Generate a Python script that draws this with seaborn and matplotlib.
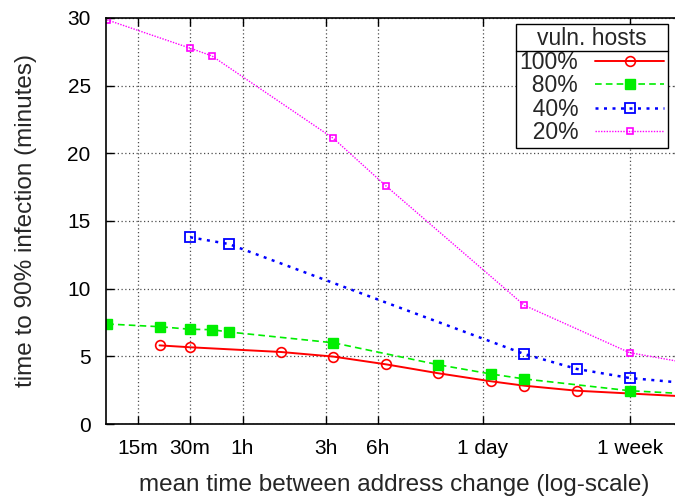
import matplotlib
matplotlib.use("Agg")
import matplotlib.pyplot as plt
import seaborn as sns
import pandas as pd
from matplotlib.lines import Line2D

# ---- data (x in minutes) ----
x_100 = [20, 30, 100, 200, 400, 800, 1600, 2500, 5000, 20160]
y_100 = [5.81, 5.67, 5.32, 4.98, 4.41, 3.75, 3.16, 2.83, 2.46, 2.05]
x_80 = [10, 20, 30, 40, 50, 200, 800, 1600, 2500, 10080, 20160]
y_80 = [7.39, 7.19, 7.0, 6.97, 6.8, 6.0, 4.38, 3.7, 3.33, 2.46, 2.25]
x_40 = [30, 50, 2500, 5000, 10080, 20160]
y_40 = [13.8, 13.3, 5.17, 4.07, 3.4, 3.05]
x_20 = [10, 30, 40, 200, 400, 2500, 10080, 20160]
y_20 = [29.86, 27.77, 27.2, 21.1, 17.6, 8.77, 5.27, 4.58]
series_labels = ["100%", "80%", "40%", "20%"]
tick_pos = [15, 30, 60, 180, 360, 1440, 10080]
tick_labels = ["15m", "30m", "1h", "3h", "6h", "1 day", "1 week"]
y_ticks = [0, 5, 10, 15, 20, 25, 30]

sns.set_style("ticks")
plt.rcParams["font.family"] = ["Liberation Sans", "DejaVu Sans"]

fig = plt.figure(figsize=(6.75, 4.99), dpi=100)
ax = fig.add_axes([106 / 675, 1 - 424 / 499, (682 - 106) / 675, (424 - 18) / 499])

styles = [
    dict(color="#ff0000", ls="-", lw=1.4, marker="o", ms=7, mfc="none", mec="#ff0000", mew=1.2),
    dict(color="#00ee00", ls=(0, (4, 2.5)), lw=1.2, marker="s", ms=7, mfc="#00ee00", mec="#00ee00", mew=1.0),
    dict(color="#0000ff", ls=(0, (1.2, 2.2)), lw=1.8, marker="s", ms=7, mfc="none", mec="#0000ff", mew=1.3),
    dict(color="#ff00ff", ls=(0, (1, 1)), lw=1.0, marker="s", ms=5, mfc="none", mec="#ff00ff", mew=1.2),
]
data = [(x_100, y_100), (x_80, y_80), (x_40, y_40), (x_20, y_20)]

handles = []
for (xs, ys), lab, st in zip(data, series_labels, styles):
    df = pd.DataFrame({"x": xs, "y": ys})
    sns.lineplot(data=df, x="x", y="y", ax=ax, color=st["color"], linestyle=st["ls"],
                 linewidth=st["lw"], marker=st["marker"], markersize=st["ms"],
                 markerfacecolor=st["mfc"], markeredgecolor=st["mec"],
                 markeredgewidth=st["mew"], clip_on=True, legend=False)
    handles.append(Line2D([], [], color=st["color"], linestyle=st["ls"], linewidth=st["lw"],
                          marker=st["marker"], markersize=st["ms"], markerfacecolor=st["mfc"],
                          markeredgecolor=st["mec"], markeredgewidth=st["mew"]))

ax.set_xscale("log")
ax.set_xlim(9.85, 20160)
ax.set_ylim(0, 30)
ax.set_xticks(tick_pos)
ax.set_xticklabels(tick_labels)
ax.xaxis.set_minor_locator(matplotlib.ticker.NullLocator())
ax.set_yticks(y_ticks)
ax.tick_params(axis="both", which="major", direction="in", length=6, width=1,
               labelsize=15, top=True, right=True, colors="black")
ax.tick_params(axis="y", pad=11)
ax.tick_params(axis="x", pad=11)
ax.grid(True, which="major", linestyle=(0, (1, 2)), color="0.3", linewidth=0.9)
for sp in ax.spines.values():
    sp.set_color("black")
    sp.set_linewidth(1.2)

ax.set_xlabel("mean time between address change (log-scale)", fontsize=17.5, labelpad=11)
ax.set_ylabel("time to 90% infection (minutes)", fontsize=17.5, labelpad=22)

labels_fmt = ["100%", "\u200780%", "\u200740%", "\u200720%"]
leg = ax.legend(handles, labels_fmt, title="vuln. hosts", loc="upper left",
                bbox_to_anchor=(516 / 675, 1 - 24 / 499), bbox_transform=fig.transFigure,
                markerfirst=False, fontsize=16.5, title_fontsize=16.5, frameon=True,
                fancybox=False, edgecolor="black", framealpha=1, handlelength=3.0,
                labelspacing=0.02, borderpad=0.15, handletextpad=0.75, borderaxespad=0,
                numpoints=1)
leg.get_frame().set_linewidth(1.0)

fig.canvas.draw()
renderer = fig.canvas.get_renderer()
lb = leg.get_window_extent(renderer)
tb = leg.get_title().get_window_extent(renderer)
yline = tb.y0 - 1
inv = fig.transFigure.inverted()
(x0f, yf), (x1f, _) = inv.transform([(lb.x0, yline), (lb.x1, yline)])
fig.add_artist(Line2D([x0f, x1f], [yf, yf], transform=fig.transFigure, color="black", lw=1.0))

fig.savefig("out.png", dpi=100)
